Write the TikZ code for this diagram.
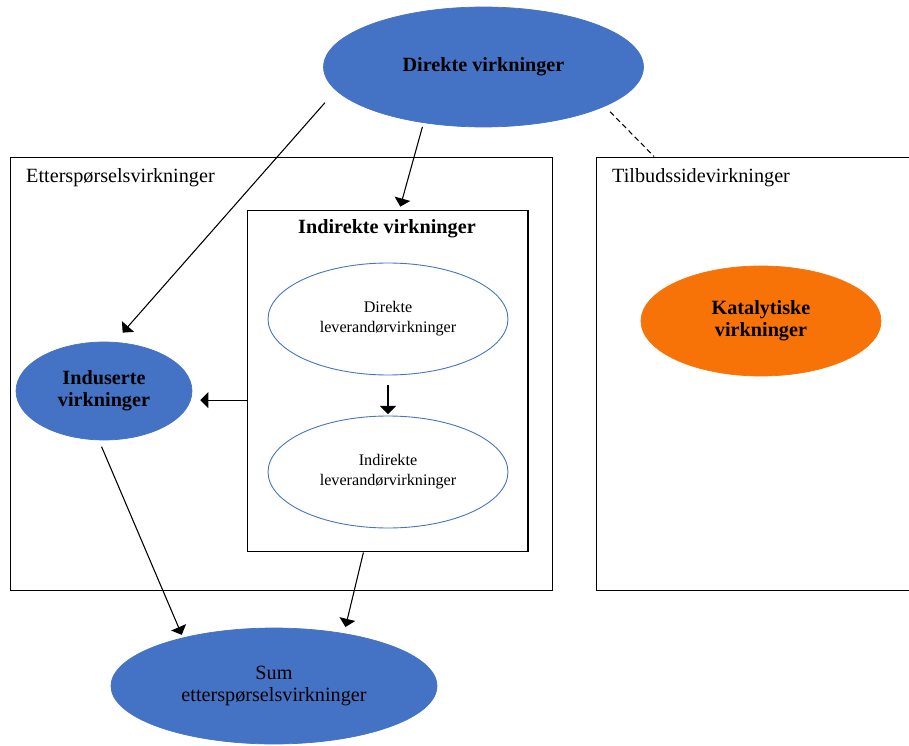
\documentclass[tikz,border=0pt]{standalone}
\usepackage{fontspec}
\setmainfont{Liberation Serif}
\usetikzlibrary{arrows}
\usetikzlibrary{shapes.geometric}

\begin{document}
\begin{tikzpicture}[x=0.02cm,y=-0.02cm,
		blob/.style={ellipse,draw=mycolor1,fill=mycolor1,inner sep=0pt,align=center,font=\fontsize{11.5}{12.5}\selectfont},
		lev/.style={ellipse,draw=mycolor1,fill=white,line width=0.5pt,inner sep=0pt,align=center,
			minimum width=4.8cm,minimum height=2.24cm,font=\fontsize{9.2}{11.4}\selectfont},
		box/.style={draw=black,line width=0.6pt,inner sep=0pt},
		arr/.style={draw=black,-triangle 90,fill=black,line width=0.6pt}]
		\definecolor{mycolor1}{RGB}{68,114,196}
		\definecolor{mycolor2}{RGB}{247,115,8}

		\useasboundingbox (0,0) rectangle (909,746);
		\clip (0,0) rectangle (909,746);

		\node[box,minimum width=10.86cm,minimum height=8.68cm] (etter) at (281.5,374) {};
		\node[box,minimum width=6.38cm,minimum height=8.68cm] (tilbud) at (755.5,374) {};
		\node[box,minimum width=5.62cm,minimum height=6.84cm] (indbox) at (387.5,381) {};

		\node[anchor=west,font=\fontsize{11.5}{12.5}\selectfont] (etterlabel) at (20,178) {Etterspørselsvirkninger};
		\node[anchor=west,font=\fontsize{11.5}{12.5}\selectfont] (tilbudlabel) at (606,178) {Tilbudssidevirkninger};
		\node[font=\fontsize{11.5}{12.5}\selectfont\bfseries] (indlabel) at (387,229) {Indirekte virkninger};

		\node[blob,minimum width=6.4cm,minimum height=2.4cm,font=\fontsize{11.5}{12.5}\selectfont\bfseries] (dir) at (483.5,67) {Direkte virkninger};
		\node[blob,minimum width=3.52cm,minimum height=1.96cm,font=\fontsize{11.5}{12.5}\selectfont\bfseries] (ind) at (104,391) {Induserte\\virkninger};
		\node[blob,draw=mycolor2,fill=mycolor2,minimum width=4.8cm,minimum height=2.2cm,font=\fontsize{11.5}{12.5}\selectfont\bfseries] (kat) at (761,321) {Katalytiske\\virkninger};
		\node[blob,minimum width=6.52cm,minimum height=2.32cm] (sum) at (274,686) {Sum\\etterspørselsvirkninger};

		\node[lev] (dlev) at (388,319) {Direkte\\leverandørvirkninger};
		\node[lev] (ilev) at (388,472) {Indirekte\\leverandørvirkninger};

		\draw[arr,shorten <=0.33cm,shorten >=0.25cm] (dir.189) -- (ind.78);
		\draw[arr,shorten <=0.08cm,shorten >=0.06cm] (dir.223) -- (indbox.86.5);
		\draw[arr,shorten >=0.19cm] (indbox.west |- ind.-6) -- (ind.-6);
		\draw[arr,shorten <=0.2cm,shorten >=0.03cm] (dlev.south) -- (ilev.north);
		\draw[arr,shorten <=0.14cm,shorten >=0.06cm] (ind.264) -- (sum.152);
		\draw[arr,shorten >=0.13cm] (indbox.262.5) -- (sum.37);

		\draw[draw=black,line width=0.6pt,dash pattern=on 3pt off 2pt,shorten <=0.15cm] (dir.-18.5) -- (tilbud.115);

\end{tikzpicture}
\end{document}
